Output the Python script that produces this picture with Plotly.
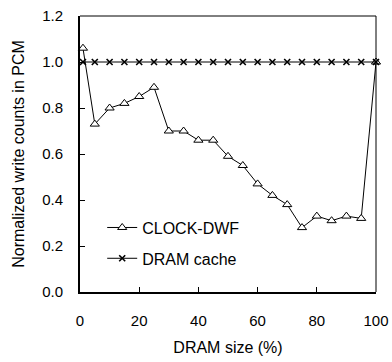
import plotly.graph_objects as go

# DRAM size as a percentage of total memory
dram_size = [1, 5, 10, 15, 20, 25, 30, 35, 40, 45, 50,
             55, 60, 65, 70, 75, 80, 85, 90, 95, 100]

# Normalized PCM write counts
clock_dwf = [1.06, 0.73, 0.80, 0.82, 0.85, 0.89, 0.70, 0.70, 0.66, 0.66, 0.59,
             0.55, 0.47, 0.42, 0.38, 0.28, 0.33, 0.31, 0.33, 0.32, 1.00]
dram_cache = [1.00] * len(dram_size)

x_ticks = [0, 20, 40, 60, 80, 100]
y_ticks = [0.0, 0.2, 0.4, 0.6, 0.8, 1.0, 1.2]

FONT = "Arial, 'Liberation Sans', sans-serif"

fig = go.Figure()

fig.add_trace(go.Scatter(
    x=dram_size, y=clock_dwf, mode="lines+markers", name="CLOCK-DWF",
    legendgroup="a",
    line=dict(color="black", width=1),
    marker=dict(symbol="triangle-up", size=8, color="white",
                line=dict(color="black", width=1)),
    cliponaxis=False,
))

fig.add_trace(go.Scatter(
    x=dram_size, y=dram_cache, mode="lines+markers", name="DRAM cache",
    legendgroup="b",
    line=dict(color="black", width=1),
    marker=dict(symbol="x-thin-open", size=6, color="black",
                line=dict(color="black", width=1.6)),
    cliponaxis=False,
))

fig.update_layout(
    width=392, height=362,
    margin=dict(l=80, r=16, t=16, b=70),
    paper_bgcolor="white", plot_bgcolor="white",
    font=dict(family=FONT, size=15, color="black"),
    showlegend=True,
    legend=dict(
        x=0.075, y=0.295, xanchor="left", yanchor="top",
        bgcolor="rgba(0,0,0,0)", font=dict(size=16),
        traceorder="grouped", tracegroupgap=7,
    ),
    xaxis=dict(
        range=[0, 100], tickvals=x_ticks, automargin=False,
        ticks="inside", ticklen=5, tickwidth=1, tickcolor="black",
        showline=True, linecolor="black", linewidth=2,
        showgrid=False, zeroline=False, ticklabelstandoff=14,
        title=dict(text="DRAM size (%)", font=dict(size=16), standoff=14),
    ),
    yaxis=dict(
        range=[0, 1.2], tickvals=y_ticks, tickformat=".1f", automargin=False,
        ticks="inside", ticklen=5, tickwidth=1, tickcolor="black",
        showline=True, linecolor="black", linewidth=2,
        showgrid=False, zeroline=False, ticklabelstandoff=12,
        title=dict(text="Normalized write counts in PCM", font=dict(size=16),
                   standoff=14),
    ),
    shapes=[
        dict(type="line", xref="paper", yref="paper", x0=0, x1=1, y0=1, y1=1,
             line=dict(color="black", width=1)),
        dict(type="line", xref="paper", yref="paper", x0=1, x1=1, y0=0, y1=1,
             line=dict(color="black", width=1)),
    ],
)

fig.write_html("out.html")
